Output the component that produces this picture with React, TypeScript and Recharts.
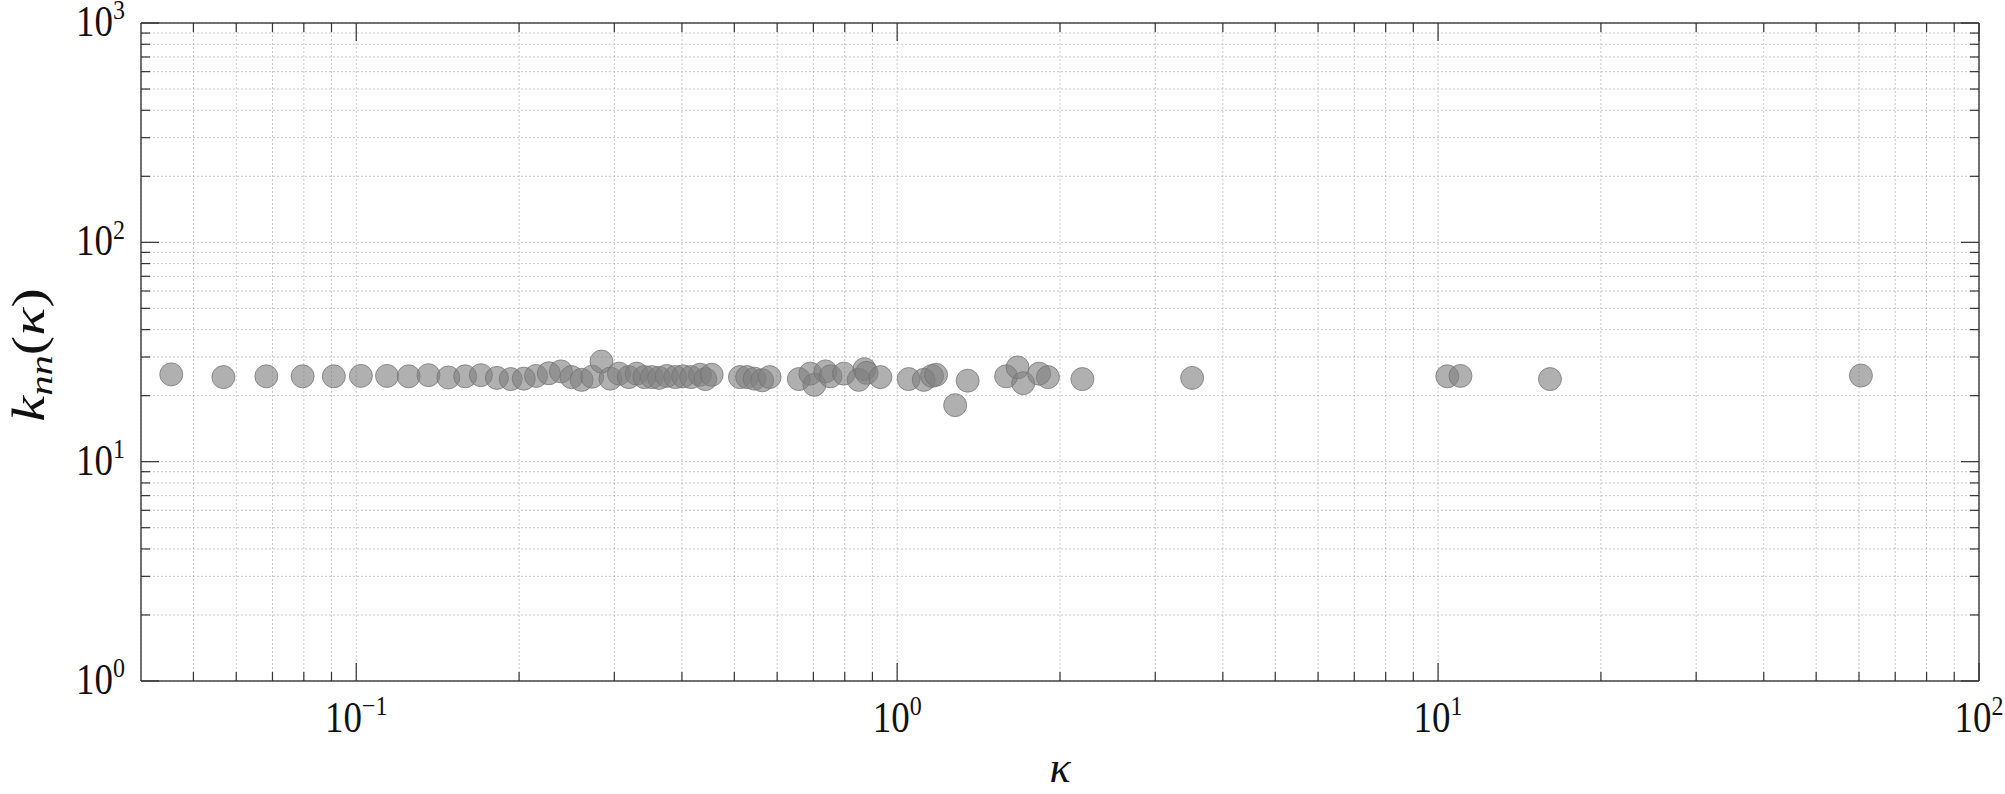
import { CartesianGrid, Scatter, ScatterChart, XAxis, YAxis } from 'recharts';

// kappa (x) and k_nn(kappa) (y)
const kappa = [
  0.0455, 0.0568, 0.0682, 0.0796, 0.0909, 0.102, 0.114, 0.125, 0.136, 0.148,
  0.159, 0.17, 0.182, 0.193, 0.204, 0.215, 0.227, 0.239, 0.25, 0.261,
  0.273, 0.284, 0.295, 0.306, 0.319, 0.33, 0.341, 0.352, 0.363, 0.375,
  0.389, 0.402, 0.416, 0.432, 0.442, 0.454, 0.512, 0.528, 0.545, 0.563,
  0.581, 0.658, 0.691, 0.703, 0.737, 0.753, 0.797, 0.849, 0.87, 0.878,
  0.931, 1.05, 1.12, 1.16, 1.18, 1.28, 1.35, 1.59, 1.67, 1.71,
  1.83, 1.9, 2.2, 3.51, 10.4, 11.0, 16.1, 60.5,
];
const knn = [
  25.0, 24.3, 24.5, 24.5, 24.5, 24.6, 24.6, 24.5, 24.8, 24.2,
  24.5, 24.8, 24.1, 23.8, 23.9, 24.6, 25.3, 25.8, 24.3, 23.6,
  24.4, 28.6, 23.9, 25.2, 24.3, 25.2, 24.3, 24.3, 24.1, 24.6,
  24.3, 24.5, 24.3, 24.9, 23.8, 24.9, 24.3, 24.3, 23.9, 23.5,
  24.3, 23.8, 25.2, 22.4, 25.8, 24.5, 25.2, 23.6, 26.4, 25.4,
  24.3, 23.8, 23.6, 24.6, 24.9, 18.1, 23.4, 24.5, 26.9, 22.8,
  25.2, 24.3, 23.8, 24.1, 24.5, 24.6, 23.8, 24.7,
];

const xTicks = [
  0.05, 0.06, 0.07, 0.08, 0.09, 0.1, 0.2, 0.3, 0.4, 0.5, 0.6, 0.7, 0.8, 0.9, 1,
  2, 3, 4, 5, 6, 7, 8, 9, 10, 20, 30, 40, 50, 60, 70, 80, 90, 100,
];
const xMajor = [0.1, 1, 10, 100];
const xMajorExp = ['−1', '0', '1', '2'];

const yTicks = [
  1, 2, 3, 4, 5, 6, 7, 8, 9, 10, 20, 30, 40, 50, 60, 70, 80, 90, 100,
  200, 300, 400, 500, 600, 700, 800, 900, 1000,
];
const yMajor = [1, 10, 100, 1000];
const yMajorExp = ['0', '1', '2', '3'];

const data = kappa.map((k, i) => ({ x: k, y: knn[i] }));

const W = 2005;
const H = 794;
const FONT = '"Liberation Serif", "DejaVu Serif", serif';
const AXIS = '#444';
const TICK = '#333';

const len = (major: boolean) => (major ? 18 : 9);

function Pow({ exp, anchor }: { exp: string; anchor: 'middle' | 'end' }) {
  return (
    <text textAnchor={anchor} fontFamily={FONT} fontSize={37} fill="#111">
      10
      <tspan fontSize={24} dy={-14}>{exp}</tspan>
    </text>
  );
}

function BottomTick(p: any) {
  const i = xMajor.indexOf(p.payload.value);
  const major = i >= 0;
  return (
    <g>
      <line x1={p.x} y1={p.y} x2={p.x} y2={p.y - len(major)} stroke={TICK} strokeWidth={1.2} />
      {major && (
        <g transform={`translate(${p.x},${p.y + 51}) scale(1,1.18)`}>
          <Pow exp={xMajorExp[i]} anchor="middle" />
        </g>
      )}
    </g>
  );
}

function TopTick(p: any) {
  const major = xMajor.includes(p.payload.value);
  return <line x1={p.x} y1={p.y} x2={p.x} y2={p.y + len(major)} stroke={TICK} strokeWidth={1.2} />;
}

function LeftTick(p: any) {
  const i = yMajor.indexOf(p.payload.value);
  const major = i >= 0;
  return (
    <g>
      <line x1={p.x} y1={p.y} x2={p.x + len(major)} y2={p.y} stroke={TICK} strokeWidth={1.2} />
      {major && (
        <g transform={`translate(${p.x - 16},${p.y + 13}) scale(1,1.18)`}>
          <Pow exp={yMajorExp[i]} anchor="end" />
        </g>
      )}
    </g>
  );
}

function RightTick(p: any) {
  const major = yMajor.includes(p.payload.value);
  return <line x1={p.x} y1={p.y} x2={p.x - len(major)} y2={p.y} stroke={TICK} strokeWidth={1.2} />;
}

const Dot = (p: any) => (
  <circle
    cx={p.cx}
    cy={p.cy}
    r={11.5}
    fill="#808080"
    fillOpacity={0.62}
    stroke="#747474"
    strokeOpacity={0.75}
    strokeWidth={1}
  />
);

const xTitle = () => (
  <text x={1060} y={782} textAnchor="middle" fontFamily={FONT} fontSize={44} fontStyle="italic" fill="#111">
    κ
  </text>
);

const yTitle = () => (
  <g transform="translate(44,355) rotate(-90) scale(1.27,1)">
    <text textAnchor="middle" fontFamily={FONT} fontSize={46} fill="#111">
      <tspan fontStyle="italic">k</tspan>
      <tspan fontStyle="italic" fontSize={32} dy={8}>nn</tspan>
      <tspan dy={-8}>(</tspan>
      <tspan fontStyle="italic">κ</tspan>
      <tspan>)</tspan>
    </text>
  </g>
);

export default function App() {
  return (
    <div style={{ position: 'absolute', left: 0, top: 0, width: W, height: H }}>
      <ScatterChart width={W} height={H} margin={{ top: 23, right: 26, bottom: 0, left: 0 }}>
        <CartesianGrid xAxisId="b" yAxisId="l" stroke="#c6c6c6" strokeDasharray="2 2" strokeWidth={1} />
        <XAxis
          xAxisId="b"
          dataKey="x"
          type="number"
          scale="log"
          domain={[0.04, 100]}
          allowDataOverflow
          ticks={xTicks}
          interval={0}
          height={113}
          tickSize={0}
          tickMargin={0}
          tickLine={false}
          axisLine={{ stroke: AXIS, strokeWidth: 1.5 }}
          tick={(p: any) => <BottomTick {...p} />}
          label={{ content: xTitle }}
        />
        <XAxis
          xAxisId="t"
          orientation="top"
          mirror
          dataKey="x"
          type="number"
          scale="log"
          domain={[0.04, 100]}
          allowDataOverflow
          ticks={xTicks}
          interval={0}
          tickSize={0}
          tickMargin={0}
          tickLine={false}
          axisLine={{ stroke: AXIS, strokeWidth: 1.5 }}
          tick={(p: any) => <TopTick {...p} />}
        />
        <YAxis
          yAxisId="l"
          dataKey="y"
          type="number"
          scale="log"
          domain={[1, 1000]}
          allowDataOverflow
          ticks={yTicks}
          interval={0}
          width={141}
          tickSize={0}
          tickMargin={0}
          tickLine={false}
          axisLine={{ stroke: AXIS, strokeWidth: 1.5 }}
          tick={(p: any) => <LeftTick {...p} />}
          label={{ content: yTitle }}
        />
        <YAxis
          yAxisId="r"
          orientation="right"
          mirror
          dataKey="y"
          type="number"
          scale="log"
          domain={[1, 1000]}
          allowDataOverflow
          ticks={yTicks}
          interval={0}
          tickSize={0}
          tickMargin={0}
          tickLine={false}
          axisLine={{ stroke: AXIS, strokeWidth: 1.5 }}
          tick={(p: any) => <RightTick {...p} />}
        />
        <Scatter data={data} xAxisId="b" yAxisId="l" shape={Dot} isAnimationActive={false} />
      </ScatterChart>
    </div>
  );
}
